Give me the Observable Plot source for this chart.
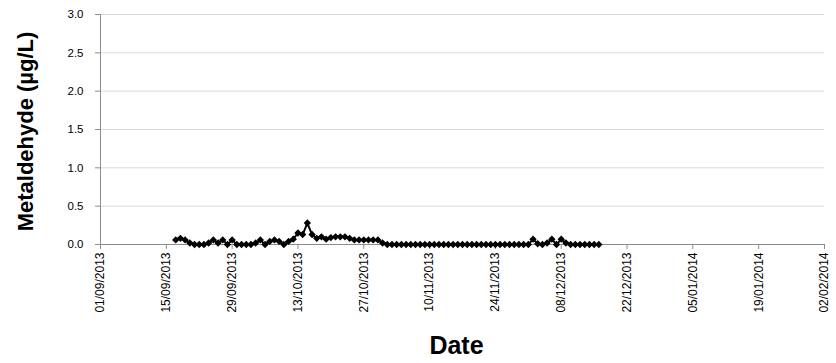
<!DOCTYPE html>
<html>
<head>
<meta charset="utf-8">
<script src="https://cdn.jsdelivr.net/npm/d3@7"></script>
<script src="https://cdn.jsdelivr.net/npm/@observablehq/plot@0.6"></script>
<style>
  html, body { margin: 0; padding: 0; background: #fff; }
  #chart svg { display: block; }
</style>
</head>
<body>
<div id="chart"></div>
<script>
// ---- data ----
const startDate = "17/09/2013"; // first daily sample
const values = [
  0.06, 0.08, 0.06, 0.02,
  0, 0, 0, 0.02,
  0.06, 0.02, 0.06, 0, 0.06, 0,
  0, 0, 0, 0.02, 0.06, 0,
  0.04, 0.06, 0.04, 0, 0.04, 0.07,
  0.15, 0.13, 0.28, 0.13, 0.08, 0.10,
  0.07, 0.09, 0.10, 0.10, 0.10, 0.08,
  0.06, 0.06, 0.06, 0.06, 0.06, 0.06,
  0.02,
  0, 0, 0, 0, 0, 0, 0, 0, 0, 0, 0, 0, 0, 0, 0, 0, 0, 0, 0, 0, 0, 0, 0, 0, 0, 0, 0, 0, 0, 0, 0,
  0.07, 0.01, 0, 0.02, 0.07, 0, 0.07, 0.02,
  0, 0, 0, 0, 0, 0, 0
];
const xTickLabels = ["01/09/2013","15/09/2013","29/09/2013","13/10/2013","27/10/2013","10/11/2013",
  "24/11/2013","08/12/2013","22/12/2013","05/01/2014","19/01/2014","02/02/2014"];
const yTicks = [0, 0.5, 1.0, 1.5, 2.0, 2.5, 3.0];
const yLabel = "Metaldehyde (µg/L)";
const xLabel = "Date";

// ---- build ----
const parse = d3.utcParse("%d/%m/%Y");
const fmt = d3.utcFormat("%d/%m/%Y");
const t0 = parse(startDate);
const data = values.map((v, i) => ({date: d3.utcDay.offset(t0, i), value: v}));
const xTicks = xTickLabels.map(parse);

const font = "Liberation Sans, Arial, sans-serif";
const chart = Plot.plot({
  width: 836,
  height: 363,
  marginLeft: 100,
  marginRight: 12,
  marginTop: 14,
  marginBottom: 119,
  style: {fontFamily: font, fontSize: "11.5px", color: "#000", background: "#fff", overflow: "visible"},
  x: {type: "utc", domain: [xTicks[0], xTicks[xTicks.length - 1]]},
  y: {domain: [0, 3]},
  marks: [
    Plot.gridY(yTicks, {stroke: "#d9d9d9", strokeOpacity: 1}),
    Plot.ruleX([xTicks[0]], {stroke: "#8c8c8c"}),
    Plot.ruleY([0], {stroke: "#8c8c8c"}),
    Plot.axisY(yTicks, {tickFormat: d => d.toFixed(1), tickSize: 5, tickPadding: 12, stroke: "#8c8c8c", label: null, fill: "#000"}),
    Plot.axisX(xTicks, {tickFormat: fmt, tickSize: 5, tickPadding: 3, tickRotate: -90, stroke: "#8c8c8c", label: null, fill: "#000", fontSize: 12}),
    Plot.line(data, {x: "date", y: "value", stroke: "#000", strokeWidth: 2}),
    Plot.dot(data, {x: "date", y: "value", symbol: "diamond2", r: 3.3, fill: "#000", stroke: "none"}),
    Plot.text([yLabel], {frameAnchor: "left", dx: -75, dy: 2, rotate: -90, textAnchor: "middle", fontWeight: "bold", fontSize: 22, fill: "#000", lineAnchor: "middle"}),
    Plot.text([xLabel], {frameAnchor: "bottom", dx: -6, dy: 101, textAnchor: "middle", fontWeight: "bold", fontSize: 25, fill: "#000", lineAnchor: "middle"})
  ]
});
document.getElementById("chart").appendChild(chart);
</script>
</body>
</html>
